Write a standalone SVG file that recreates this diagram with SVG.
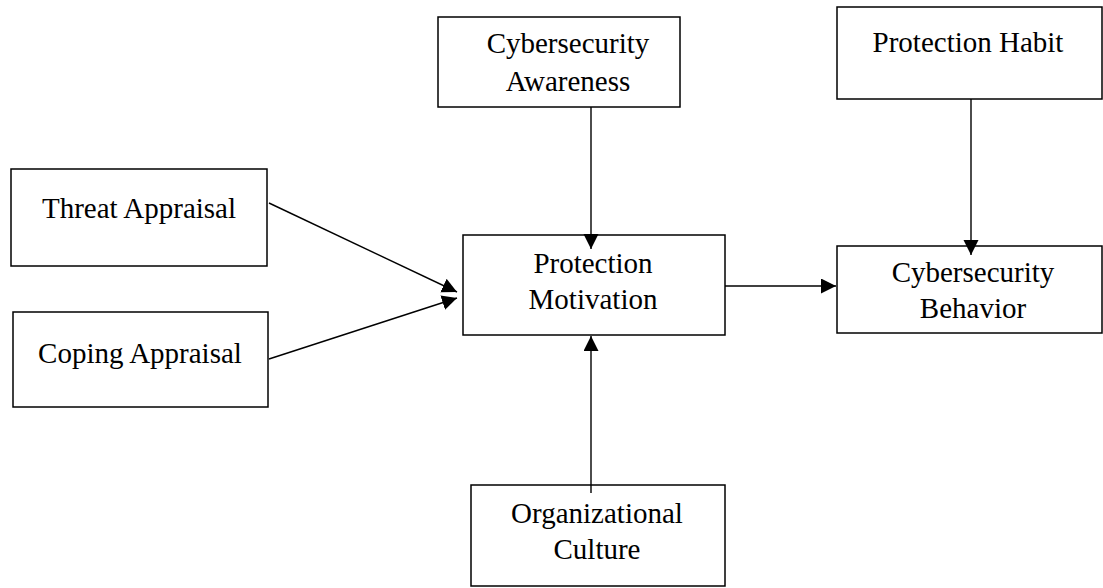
<svg xmlns="http://www.w3.org/2000/svg" width="1103" height="588" viewBox="0 0 1103 588">
<defs>
<style>
.box{fill:#fff;stroke:#000;stroke-width:1.5}
.lbl{font-family:"Liberation Serif","Times New Roman",serif;font-size:29px;fill:#000;text-anchor:middle}
.edge{stroke:#000;stroke-width:1.4;fill:none}
</style>
<marker id="arr" markerUnits="userSpaceOnUse" markerWidth="16" markerHeight="16" refX="15" refY="7.5" orient="auto">
<path d="M0,0 L15,7.5 L0,15 Z" fill="#000"/>
</marker>
</defs>
<rect width="1103" height="588" fill="#fff"/>
<g id="threat">
<rect class="box" x="11" y="169" width="256" height="97"/>
<text class="lbl" x="139" y="218">Threat Appraisal</text>
</g>
<g id="coping">
<rect class="box" x="13" y="312" width="255" height="95"/>
<text class="lbl" x="140" y="363">Coping Appraisal</text>
</g>
<g id="awareness">
<rect class="box" x="438" y="17" width="242" height="90"/>
<text class="lbl" x="568" y="53">Cybersecurity</text>
<text class="lbl" x="568" y="91">Awareness</text>
</g>
<g id="motivation">
<rect class="box" x="463" y="235" width="262" height="100"/>
<text class="lbl" x="593" y="273">Protection</text>
<text class="lbl" x="593" y="309">Motivation</text>
</g>
<g id="habit">
<rect class="box" x="837" y="7" width="265" height="92"/>
<text class="lbl" x="968" y="52">Protection Habit</text>
</g>
<g id="behavior">
<rect class="box" x="837" y="246" width="265" height="87"/>
<text class="lbl" x="973" y="282">Cybersecurity</text>
<text class="lbl" x="973" y="318">Behavior</text>
</g>
<g id="culture">
<rect class="box" x="471" y="485" width="254" height="101"/>
<text class="lbl" x="597" y="523">Organizational</text>
<text class="lbl" x="597" y="559">Culture</text>
</g>
<g id="connectors">
<line class="edge" x1="269" y1="203" x2="457" y2="292" marker-end="url(#arr)"/>
<line class="edge" x1="269" y1="359" x2="457" y2="298" marker-end="url(#arr)"/>
<line class="edge" x1="591" y1="107" x2="591" y2="249" marker-end="url(#arr)"/>
<line class="edge" x1="591" y1="493" x2="591" y2="336" marker-end="url(#arr)"/>
<line class="edge" x1="725" y1="286" x2="836" y2="286" marker-end="url(#arr)"/>
<line class="edge" x1="971" y1="99" x2="971" y2="255" marker-end="url(#arr)"/>
</g>
</svg>
